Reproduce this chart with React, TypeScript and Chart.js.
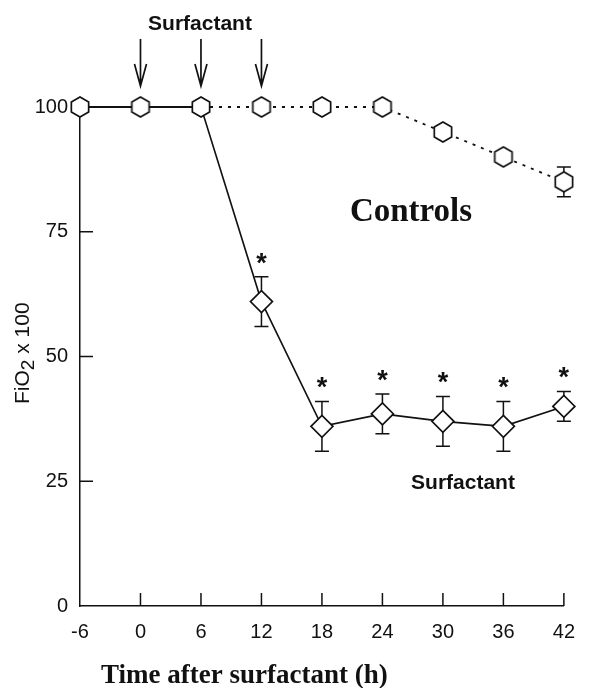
import React, { useEffect, useRef } from "react";
import { Chart, registerables } from "chart.js";

Chart.register(...registerables);

const hours = [-6, 0, 6, 12, 18, 24, 30, 36, 42];
const controlValues = [100, 100, 100, 100, 100, 100, 95, 90, 85];
const controlErrHigh = [null, null, null, null, null, null, null, null, 88];
const controlErrLow = [null, null, null, null, null, null, null, null, 82];

const surfHours = [6, 12, 18, 24, 30, 36, 42];
const surfValues = [100, 61, 36, 38.5, 37, 36, 40];
const surfErrHigh = [null, 66, 41, 42.5, 42, 41, 43];
const surfErrLow = [null, 56, 31, 34.5, 32, 31, 37];
const surfSignificant = [false, true, true, true, true, true, true];

const doseHours = [0, 6, 12];
const yTicks = [0, 25, 50, 75, 100];
const xTicks = hours;

const topLabel = "Surfactant";
const controlsLabel = "Controls";
const surfLabel = "Surfactant";
const xTitle = "Time after surfactant (h)";

const INK = "#111";

function makeHexagon(): HTMLCanvasElement {
  const c = document.createElement("canvas");
  c.width = 22;
  c.height = 24;
  const g = c.getContext("2d")!;
  const cx = 11, cy = 12, r = 10;
  g.beginPath();
  for (let i = 0; i < 6; i++) {
    const a = Math.PI / 2 + (i * Math.PI) / 3;
    const px = cx + r * Math.cos(a);
    const py = cy - r * Math.sin(a);
    if (i === 0) g.moveTo(px, py);
    else g.lineTo(px, py);
  }
  g.closePath();
  g.fillStyle = "#fff";
  g.fill();
  g.lineWidth = 1.7;
  g.strokeStyle = INK;
  g.stroke();
  return c;
}

export default function App() {
  const ref = useRef<HTMLCanvasElement | null>(null);

  useEffect(() => {
    if (!ref.current) return;
    const hex = makeHexagon();

    const errorBars = {
      id: "errorBars",
      beforeDatasetsDraw(chart: any) {
        const { ctx } = chart;
        const xs = chart.scales.x;
        const ys = chart.scales.y;
        ctx.save();
        ctx.strokeStyle = INK;
        ctx.lineWidth = 1.5;
        const draw = (xv: number[], hi: any[], lo: any[]) => {
          xv.forEach((h, i) => {
            if (hi[i] == null) return;
            const x = xs.getPixelForValue(h);
            const y1 = ys.getPixelForValue(hi[i]);
            const y2 = ys.getPixelForValue(lo[i]);
            ctx.beginPath();
            ctx.moveTo(x, y1);
            ctx.lineTo(x, y2);
            ctx.moveTo(x - 7, y1);
            ctx.lineTo(x + 7, y1);
            ctx.moveTo(x - 7, y2);
            ctx.lineTo(x + 7, y2);
            ctx.stroke();
          });
        };
        draw(hours, controlErrHigh, controlErrLow);
        draw(surfHours, surfErrHigh, surfErrLow);

        // inward ticks
        ctx.lineWidth = 1.5;
        ctx.beginPath();
        xTicks.forEach((t) => {
          if (t === xTicks[0]) return;
          const x = xs.getPixelForValue(t);
          ctx.moveTo(x, ys.bottom);
          ctx.lineTo(x, ys.bottom - 13);
        });
        yTicks.forEach((t) => {
          if (t === 0 || t === 100) return;
          const y = ys.getPixelForValue(t);
          ctx.moveTo(xs.left, y);
          ctx.lineTo(xs.left + 13, y);
        });
        ctx.stroke();
        ctx.restore();
      },
      afterDraw(chart: any) {
        const { ctx } = chart;
        const xs = chart.scales.x;
        const ys = chart.scales.y;
        ctx.save();
        ctx.fillStyle = INK;
        ctx.strokeStyle = INK;

        // significance stars
        ctx.font = "bold 27px 'Liberation Sans', Arial, sans-serif";
        ctx.textAlign = "center";
        ctx.textBaseline = "alphabetic";
        surfHours.forEach((h, i) => {
          if (!surfSignificant[i]) return;
          const x = xs.getPixelForValue(h);
          const y = ys.getPixelForValue(surfErrHigh[i] as number);
          ctx.fillText("*", x, y - 5);
        });

        // dose arrows
        ctx.lineWidth = 1.7;
        doseHours.forEach((h) => {
          const x = xs.getPixelForValue(h);
          ctx.beginPath();
          ctx.moveTo(x, 39);
          ctx.lineTo(x, 85);
          ctx.moveTo(x - 6, 64);
          ctx.lineTo(x, 86);
          ctx.lineTo(x + 6, 64);
          ctx.stroke();
        });

        // labels
        ctx.textAlign = "center";
        ctx.textBaseline = "alphabetic";
        ctx.font = "bold 21px 'Liberation Sans', Arial, sans-serif";
        ctx.fillText(topLabel, 200, 30);
        ctx.fillText(surfLabel, 463, 489);
        ctx.font = "bold 33px 'Liberation Serif', 'Times New Roman', serif";
        ctx.fillText(controlsLabel, 411, 221);

        ctx.textAlign = "left";
        ctx.font = "bold 27px 'Liberation Serif', 'Times New Roman', serif";
        ctx.fillText(xTitle, 101, 683);

        // y title, rotated, with subscript 2
        ctx.save();
        ctx.translate(29, 404);
        ctx.rotate(-Math.PI / 2);
        ctx.font = "21px 'Liberation Sans', Arial, sans-serif";
        ctx.textAlign = "left";
        let cx = 0;
        ctx.fillText("FiO", cx, 0);
        cx += ctx.measureText("FiO").width;
        ctx.font = "19px 'Liberation Sans', Arial, sans-serif";
        ctx.fillText("2", cx, 5);
        cx += ctx.measureText("2").width;
        ctx.font = "21px 'Liberation Sans', Arial, sans-serif";
        ctx.fillText(" x 100", cx, 0);
        ctx.restore();

        ctx.restore();
      },
    };

    const chart = new Chart(ref.current, {
      type: "line",
      data: {
        datasets: [
          {
            label: "Controls",
            data: hours.map((h, i) => ({ x: h, y: controlValues[i] })),
            borderColor: INK,
            borderWidth: 1.8,
            pointStyle: hex as any,
            pointRadius: 10,
            tension: 0,
            clip: false as any,
            segment: {
              borderDash: (c: any) => (c.p0.parsed.x >= 6 ? [3, 6] : undefined),
            },
          },
          {
            label: "Surfactant",
            data: surfHours.map((h, i) => ({ x: h, y: surfValues[i] })),
            borderColor: INK,
            borderWidth: 1.6,
            backgroundColor: "#fff",
            pointBackgroundColor: "#fff",
            pointBorderColor: INK,
            pointBorderWidth: 1.7,
            pointStyle: "rectRot",
            pointRadius: surfHours.map((_, i) => (i === 0 ? 0 : 11)),
            tension: 0,
            clip: false as any,
          },
        ],
      },
      options: {
        animation: false,
        responsive: false,
        events: [],
        layout: { padding: { top: 107, right: 14, left: 0, bottom: 0 } },
        plugins: { legend: { display: false }, tooltip: { enabled: false } },
        scales: {
          x: {
            type: "linear",
            min: -6,
            max: 42,
            afterFit: (s: any) => {
              s.height = 82;
            },
            afterBuildTicks: (s: any) => {
              s.ticks = xTicks.map((v) => ({ value: v }));
            },
            grid: { display: false, drawTicks: false },
            border: { display: true, color: INK, width: 1.5 },
            ticks: {
              color: INK,
              padding: 14,
              maxRotation: 0,
              autoSkip: false,
              font: { family: "'Liberation Sans', Arial, sans-serif", size: 20 },
            },
          },
          y: {
            type: "linear",
            min: 0,
            max: 100,
            afterFit: (s: any) => {
              s.width = 80;
            },
            afterBuildTicks: (s: any) => {
              s.ticks = yTicks.map((v) => ({ value: v }));
            },
            grid: { display: false, drawTicks: false },
            border: { display: true, color: INK, width: 1.5 },
            ticks: {
              color: INK,
              padding: 12,
              font: { family: "'Liberation Sans', Arial, sans-serif", size: 20 },
            },
          },
        },
      },
      plugins: [errorBars],
    });

    return () => chart.destroy();
  }, []);

  return (
    <div style={{ position: "absolute", left: 0, top: 0, width: 589, height: 688, background: "#fff" }}>
      <canvas ref={ref} width={589} height={688} style={{ display: "block" }} />
    </div>
  );
}
